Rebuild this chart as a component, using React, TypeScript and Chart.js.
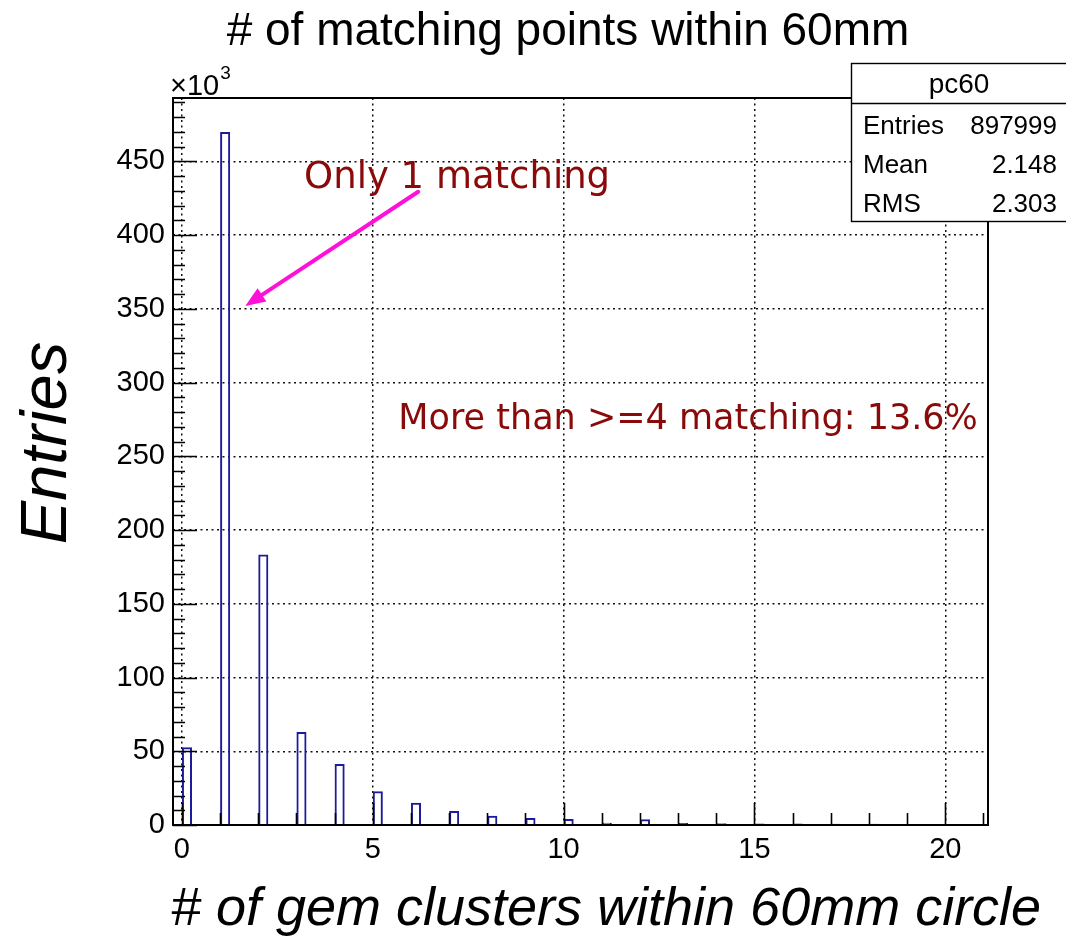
import React, { useEffect, useRef } from "react";
import { Chart, registerables } from "chart.js";

Chart.register(...registerables);

// ---- data ----
const CLUSTER_COUNTS = [0, 1, 2, 3, 4, 5, 6, 7, 8, 9, 10, 11, 12, 13, 14, 15, 16, 17, 18, 19, 20, 21];
const ENTRIES = [52700, 470000, 183500, 63000, 41400, 22900, 15100, 9500, 6200, 4800, 4100, 1600, 3900, 1300, 1200, 1000, 1000, 800, 800, 500, 700, 500];
const BIN_WIDTH = 0.264;
const X_MIN = -0.234;
const X_MAX = 21.12;
const Y_MAX = 493000;
const X_MAJOR_TICKS = [0, 5, 10, 15, 20];
const Y_MAJOR_TICKS = [0, 50000, 100000, 150000, 200000, 250000, 300000, 350000, 400000, 450000];
const Y_MINOR_STEP = 10000;
const X_MINOR_STEP = 1;

const TITLE = "# of matching points within 60mm";
const X_TITLE = "# of gem clusters within 60mm circle";
const Y_TITLE = "Entries";
const STATS_NAME = "pc60";
const STATS_LABELS = ["Entries", "Mean", "RMS"];
const STATS_VALUES = ["897999", "2.148", "2.303"];

const NOTE_1 = { text: "Only 1 matching", x: 3.2, y: 432000 };
const NOTE_2 = { text: "More than >=4 matching: 13.6%", x: 5.67, y: 268700 };
const ARROW = { x1: 6.19, y1: 429400, x2: 1.66, y2: 352000 };

const SANS = '"Liberation Sans", Arial, Helvetica, sans-serif';
const NOTE_FONT = '"DejaVu Sans", sans-serif';
const NOTE_COLOR = "#8a0a0a";
const ARROW_COLOR = "#ff10d8";
const BAR_COLOR = "#1c1c9a";

const decorPlugin = {
  id: "rootDecor",
  afterDraw(chart: any) {
    const { ctx, chartArea: a, scales } = chart;
    const xs = scales.x;
    const ys = scales.y;
    ctx.save();

    // frame
    ctx.strokeStyle = "#000";
    ctx.lineWidth = 2;
    ctx.strokeRect(a.left, a.top, a.right - a.left, a.bottom - a.top);

    // ticks (inside frame, ROOT style)
    ctx.lineWidth = 1.6;
    ctx.beginPath();
    const nY = Math.floor(Y_MAX / Y_MINOR_STEP);
    for (let i = 0; i <= nY; i++) {
      const v = i * Y_MINOR_STEP;
      const py = Math.round(ys.getPixelForValue(v)) + 0.5;
      const major = Y_MAJOR_TICKS.includes(v);
      ctx.moveTo(a.left, py);
      ctx.lineTo(a.left + (major ? 24 : 12), py);
    }
    const nX = Math.floor(X_MAX / X_MINOR_STEP);
    for (let i = 0; i <= nX; i++) {
      const v = i * X_MINOR_STEP;
      const px = Math.round(xs.getPixelForValue(v)) + 0.5;
      const major = X_MAJOR_TICKS.includes(v);
      ctx.moveTo(px, a.bottom);
      ctx.lineTo(px, a.bottom - (major ? 22 : 12));
    }
    ctx.stroke();

    // title
    ctx.fillStyle = "#000";
    ctx.textAlign = "center";
    ctx.textBaseline = "alphabetic";
    ctx.font = `46px ${SANS}`;
    ctx.fillText(TITLE, 568, 45);

    // x10^3
    ctx.textAlign = "left";
    ctx.font = `29px ${SANS}`;
    ctx.fillText("\u00d710", 170, 95);
    const w10 = ctx.measureText("\u00d710").width;
    ctx.font = `19px ${SANS}`;
    ctx.fillText("3", 170 + w10 + 1, 79);

    // axis titles
    ctx.font = `italic 54px ${SANS}`;
    ctx.textAlign = "center";
    ctx.fillText(X_TITLE, 606, 925);
    ctx.save();
    ctx.translate(66, 443);
    ctx.rotate(-Math.PI / 2);
    ctx.font = `italic 65px ${SANS}`;
    ctx.fillText(Y_TITLE, 0, 0);
    ctx.restore();

    // stats box
    const bx = 851, by = 63, bw = 230, bh = 158, sep = 103;
    ctx.fillStyle = "#fff";
    ctx.fillRect(bx, by, bw, bh);
    ctx.strokeStyle = "#000";
    ctx.lineWidth = 1.4;
    ctx.strokeRect(bx + 0.5, by + 0.5, bw, bh);
    ctx.beginPath();
    ctx.moveTo(bx, sep + 0.5);
    ctx.lineTo(bx + bw, sep + 0.5);
    ctx.stroke();
    ctx.fillStyle = "#000";
    ctx.font = `28px ${SANS}`;
    ctx.textAlign = "center";
    ctx.fillText(STATS_NAME, 959, 93);
    ctx.font = `26px ${SANS}`;
    STATS_LABELS.forEach((lab, i) => {
      const yb = 134 + i * 39;
      ctx.textAlign = "left";
      ctx.fillText(lab, 863, yb);
      ctx.textAlign = "right";
      ctx.fillText(STATS_VALUES[i], 1057, yb);
    });

    // annotations
    ctx.fillStyle = NOTE_COLOR;
    ctx.textAlign = "left";
    ctx.font = `37px ${NOTE_FONT}`;
    ctx.fillText(NOTE_1.text, xs.getPixelForValue(NOTE_1.x), ys.getPixelForValue(NOTE_1.y));
    ctx.font = `35px ${NOTE_FONT}`;
    ctx.fillText(NOTE_2.text, xs.getPixelForValue(NOTE_2.x), ys.getPixelForValue(NOTE_2.y));

    // arrow
    const x1 = xs.getPixelForValue(ARROW.x1), y1 = ys.getPixelForValue(ARROW.y1);
    const x2 = xs.getPixelForValue(ARROW.x2), y2 = ys.getPixelForValue(ARROW.y2);
    const ang = Math.atan2(y2 - y1, x2 - x1);
    const headLen = 20, headW = 8;
    const bxh = x2 - headLen * Math.cos(ang), byh = y2 - headLen * Math.sin(ang);
    ctx.strokeStyle = ARROW_COLOR;
    ctx.fillStyle = ARROW_COLOR;
    ctx.lineWidth = 4;
    ctx.lineCap = "round";
    ctx.beginPath();
    ctx.moveTo(x1, y1);
    ctx.lineTo(bxh, byh);
    ctx.stroke();
    ctx.beginPath();
    ctx.moveTo(x2, y2);
    ctx.lineTo(bxh + headW * Math.sin(ang), byh - headW * Math.cos(ang));
    ctx.lineTo(bxh - headW * Math.sin(ang), byh + headW * Math.cos(ang));
    ctx.closePath();
    ctx.fill();

    ctx.restore();
  },
};

export default function App() {
  const ref = useRef<HTMLCanvasElement | null>(null);
  useEffect(() => {
    if (!ref.current) return;
    const chart = new Chart(ref.current, {
      type: "bar",
      data: {
        datasets: [
          {
            data: CLUSTER_COUNTS.map((k, i) => ({ x: k + BIN_WIDTH / 2, y: ENTRIES[i] })),
            backgroundColor: "rgba(0,0,0,0)",
            borderColor: BAR_COLOR,
            borderWidth: 2,
            categoryPercentage: BIN_WIDTH,
            barPercentage: 1,
          } as any,
        ],
      },
      options: {
        responsive: false,
        animation: false,
        devicePixelRatio: 1,
        layout: { padding: { left: 0, top: 98, right: 78, bottom: 0 } },
        plugins: { legend: { display: false }, tooltip: { enabled: false }, title: { display: false } },
        scales: {
          x: {
            type: "linear",
            min: X_MIN,
            max: X_MAX,
            offset: false,
            afterFit: (s: any) => { s.height = 114; },
            afterBuildTicks: (s: any) => { s.ticks = X_MAJOR_TICKS.map((v) => ({ value: v })); },
            grid: { offset: false, drawTicks: false, color: "#111", lineWidth: 1.5 },
            border: { display: false, dash: [2, 3.5] },
            ticks: { color: "#000", font: { family: SANS, size: 29 }, padding: 8, maxRotation: 0, autoSkip: false },
          },
          y: {
            type: "linear",
            min: 0,
            max: Y_MAX,
            afterFit: (s: any) => { s.width = 173; },
            afterBuildTicks: (s: any) => { s.ticks = Y_MAJOR_TICKS.map((v) => ({ value: v })); },
            grid: { drawTicks: false, color: "#111", lineWidth: 1.5 },
            border: { display: false, dash: [2, 3.5] },
            ticks: { color: "#000", font: { family: SANS, size: 29 }, padding: 8, callback: (v: any) => String(Number(v) / 1000) },
          },
        },
      },
      plugins: [decorPlugin],
    });
    return () => chart.destroy();
  }, []);
  return (
    <div style={{ position: "absolute", left: 0, top: 0, width: 1066, height: 939, background: "#fff" }}>
      <canvas ref={ref} width={1066} height={939} style={{ display: "block", width: 1066, height: 939 }} />
    </div>
  );
}
